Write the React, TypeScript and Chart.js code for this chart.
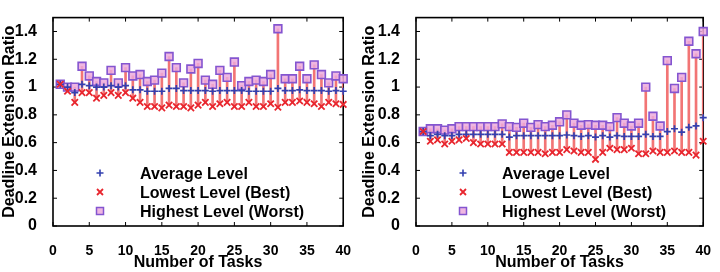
import React, { useEffect, useRef } from "react";
import { Chart, registerables } from "chart.js";

Chart.register(...registerables);

// ---- data ----
const taskCounts = [
  1, 2, 3, 4, 5, 6, 7, 8, 9, 10, 11, 12, 13, 14, 15, 16, 17, 18, 19, 20,
  21, 22, 23, 24, 25, 26, 27, 28, 29, 30, 31, 32, 33, 34, 35, 36, 37, 38, 39, 40,
];
const xTickValues = [0, 5, 10, 15, 20, 25, 30, 35, 40];
const yTickValues = [0, 0.2, 0.4, 0.6, 0.8, 1, 1.2, 1.4];
const seriesLabels = ["Average Level", "Lowest Level (Best)", "Highest Level (Worst)"];
const yAxisTitle = "Deadline Extension Ratio";
const xAxisTitle = "Number of Tasks";

const leftAvg = [
  1.02, 1.0, 0.96, 1.02, 1.01, 1.0, 1.0, 1.01, 1.0, 1.01,
  0.98, 0.98, 0.97, 0.97, 0.97, 0.99, 0.99, 0.975, 0.975, 0.975,
  0.975, 0.97, 0.975, 0.975, 0.975, 0.975, 0.97, 0.97, 0.97, 0.97,
  0.99, 0.975, 0.975, 0.98, 0.975, 0.975, 0.975, 0.97, 0.975, 0.97,
];
const leftLow = [
  1.02, 0.97, 0.89, 0.96, 0.96, 0.92, 0.94, 0.96, 0.94, 0.96,
  0.92, 0.89, 0.86, 0.86, 0.85, 0.87, 0.86, 0.86, 0.85, 0.87,
  0.89, 0.86, 0.88, 0.89, 0.86, 0.86, 0.89, 0.86, 0.86, 0.88,
  0.855, 0.89, 0.89, 0.9, 0.89, 0.88, 0.86, 0.89, 0.88, 0.875,
];
const leftHigh = [
  1.02, 1.0, 1.0, 1.15, 1.08, 1.04, 1.03, 1.12, 1.03, 1.14,
  1.08, 1.09, 1.04, 1.05, 1.1, 1.22, 1.14, 1.03, 1.13, 1.17,
  1.05, 1.02, 1.12, 1.07, 1.18, 1.01, 1.04, 1.05, 1.04, 1.09,
  1.42, 1.06, 1.06, 1.15, 1.06, 1.16, 1.09, 1.03, 1.08, 1.06,
];

const rightAvg = [
  0.68, 0.65, 0.66, 0.65, 0.65, 0.66, 0.66, 0.66, 0.66, 0.66,
  0.66, 0.66, 0.64, 0.65, 0.65, 0.65, 0.65, 0.65, 0.65, 0.65,
  0.655, 0.65, 0.645, 0.65, 0.64, 0.65, 0.64, 0.65, 0.645, 0.645,
  0.645, 0.66, 0.645, 0.645, 0.68, 0.70, 0.675, 0.71, 0.72, 0.78,
];
const rightLow = [
  0.68, 0.61, 0.62, 0.59, 0.61, 0.62, 0.63, 0.6, 0.59, 0.59,
  0.59, 0.59, 0.53, 0.53, 0.53, 0.53, 0.53, 0.52, 0.53, 0.53,
  0.55, 0.54, 0.53, 0.53, 0.48, 0.53, 0.56, 0.55, 0.55, 0.56,
  0.52, 0.52, 0.54, 0.53, 0.53, 0.54, 0.53, 0.53, 0.51, 0.61,
];
const rightHigh = [
  0.68, 0.7, 0.7, 0.69, 0.7, 0.715, 0.715, 0.715, 0.715, 0.715,
  0.715, 0.735, 0.715, 0.71, 0.74, 0.71, 0.73, 0.715, 0.725, 0.75,
  0.8, 0.74, 0.725, 0.73, 0.725, 0.725, 0.715, 0.78, 0.74, 0.72,
  0.74, 1.0, 0.79, 0.72, 1.19, 0.99, 1.07, 1.33, 1.24, 1.4,
];

// ---- styles ----
const FONT = "'Liberation Sans', Arial, Helvetica, sans-serif";
const AVG_COLOR = "#3340b0";
const LOW_COLOR = "#e8262e";
const HIGH_BORDER = "#8455d0";
const HIGH_FILL = "rgba(236,170,220,0.85)";
const RANGE_COLOR = "#f27575";

type PanelProps = {
  avg: number[];
  low: number[];
  high: number[];
  plotLeft: number;
  padRight: number;
  legendX: number;
  legendTextX: number;
};

function Panel({ avg, low, high, plotLeft, padRight, legendX, legendTextX }: PanelProps) {
  const ref = useRef<HTMLCanvasElement>(null);

  useEffect(() => {
    const canvas = ref.current;
    if (!canvas) return;

    const framePlugin = {
      id: "frameTicks",
      beforeDatasetsDraw(chart: any) {
        const { ctx, chartArea: a, scales } = chart;
        ctx.save();
        ctx.strokeStyle = "#000";
        ctx.lineWidth = 1;
        ctx.beginPath();
        for (const v of xTickValues) {
          const px = scales.x.getPixelForValue(v);
          ctx.moveTo(px, a.bottom);
          ctx.lineTo(px, a.bottom - 4);
          ctx.moveTo(px, a.top);
          ctx.lineTo(px, a.top + 4);
        }
        for (const v of yTickValues) {
          const py = scales.y.getPixelForValue(v);
          ctx.moveTo(a.left, py);
          ctx.lineTo(a.left + 4, py);
          ctx.moveTo(a.right, py);
          ctx.lineTo(a.right - 4, py);
        }
        ctx.stroke();
        ctx.lineWidth = 1.6;
        ctx.strokeRect(a.left, a.top, a.right - a.left, a.bottom - a.top);
        ctx.restore();
      },
    };

    const legendPlugin = {
      id: "insideLegend",
      afterDatasetsDraw(chart: any) {
        const ctx = chart.ctx as CanvasRenderingContext2D;
        const markerY = [173, 192, 211];
        const baseY = [179, 198, 217];
        ctx.save();
        // average: plus
        ctx.strokeStyle = AVG_COLOR;
        ctx.lineWidth = 1.6;
        ctx.beginPath();
        ctx.moveTo(legendX - 3.5, markerY[0]);
        ctx.lineTo(legendX + 3.5, markerY[0]);
        ctx.moveTo(legendX, markerY[0] - 3.5);
        ctx.lineTo(legendX, markerY[0] + 3.5);
        ctx.stroke();
        // lowest: x
        ctx.strokeStyle = LOW_COLOR;
        ctx.lineWidth = 1.8;
        ctx.beginPath();
        ctx.moveTo(legendX - 3, markerY[1] - 3);
        ctx.lineTo(legendX + 3, markerY[1] + 3);
        ctx.moveTo(legendX + 3, markerY[1] - 3);
        ctx.lineTo(legendX - 3, markerY[1] + 3);
        ctx.stroke();
        // highest: square
        ctx.fillStyle = HIGH_FILL;
        ctx.strokeStyle = HIGH_BORDER;
        ctx.lineWidth = 1.5;
        ctx.fillRect(legendX - 3.5, markerY[2] - 3.5, 7, 7);
        ctx.strokeRect(legendX - 3.5, markerY[2] - 3.5, 7, 7);
        // texts
        ctx.fillStyle = "#000";
        ctx.font = `bold 16px ${FONT}`;
        ctx.textAlign = "left";
        ctx.textBaseline = "alphabetic";
        seriesLabels.forEach((t, i) => ctx.fillText(t, legendTextX, baseY[i]));
        ctx.restore();
      },
    };

    const chart = new Chart(canvas, {
      type: "scatter",
      data: {
        datasets: [
          {
            type: "bar",
            label: "range",
            data: taskCounts.map((t, i) => ({ x: t, y: [low[i], high[i]] })) as any,
            backgroundColor: RANGE_COLOR,
            barThickness: 2,
            borderWidth: 0,
            order: 10,
          } as any,
          {
            label: seriesLabels[2],
            data: taskCounts.map((t, i) => ({ x: t, y: high[i] })),
            pointStyle: "rect",
            pointRadius: 5.5,
            backgroundColor: HIGH_FILL,
            borderColor: HIGH_BORDER,
            borderWidth: 1.6,
            order: 3,
            clip: false,
          } as any,
          {
            label: seriesLabels[0],
            data: taskCounts.map((t, i) => ({ x: t, y: avg[i] })),
            pointStyle: "cross",
            pointRadius: 3.5,
            borderColor: AVG_COLOR,
            backgroundColor: AVG_COLOR,
            borderWidth: 1.7,
            order: 2,
            clip: false,
          } as any,
          {
            label: seriesLabels[1],
            data: taskCounts.map((t, i) => ({ x: t, y: low[i] })),
            pointStyle: "crossRot",
            pointRadius: 4.5,
            borderColor: LOW_COLOR,
            backgroundColor: LOW_COLOR,
            borderWidth: 1.8,
            order: 1,
            clip: false,
          } as any,
        ],
      },
      options: {
        responsive: false,
        animation: false,
        events: [],
        layout: { padding: { top: 5, right: padRight, bottom: 0, left: 0 } },
        plugins: {
          legend: { display: false },
          tooltip: { enabled: false },
        },
        scales: {
          x: {
            type: "linear",
            min: 0,
            max: 40,
            offset: false,
            grid: { display: false },
            border: { display: false },
            afterBuildTicks: (s: any) => {
              s.ticks = xTickValues.map((v) => ({ value: v }));
            },
            afterFit: (s: any) => {
              s.height = 46;
            },
            ticks: {
              autoSkip: false,
              maxRotation: 0,
              padding: 9,
              color: "#000",
              font: { family: FONT, size: 14, weight: "bold" },
              callback: (v: any) => String(v),
            },
            title: {
              display: true,
              text: xAxisTitle,
              color: "#000",
              padding: 0,
              font: { family: FONT, size: 16, weight: "bold" },
            },
          },
          y: {
            type: "linear",
            min: 0,
            max: 1.5,
            grid: { display: false },
            border: { display: false },
            afterBuildTicks: (s: any) => {
              s.ticks = yTickValues.map((v) => ({ value: v }));
            },
            afterFit: (s: any) => {
              s.width = plotLeft;
            },
            ticks: {
              padding: 8,
              color: "#000",
              font: { family: FONT, size: 16, weight: "bold" },
              callback: (v: any) => String(v),
            },
            title: {
              display: true,
              text: yAxisTitle,
              color: "#000",
              padding: 0,
              font: { family: FONT, size: 16, weight: "bold" },
            },
          },
        },
      } as any,
      plugins: [framePlugin, legendPlugin],
    });

    return () => chart.destroy();
  }, [avg, low, high, plotLeft, padRight, legendX, legendTextX]);

  return (
    <canvas
      ref={ref}
      width={360}
      height={272}
      style={{ display: "block", width: 360, height: 272 }}
    />
  );
}

export default function App() {
  return (
    <div
      style={{
        position: "fixed",
        left: 0,
        top: 0,
        width: 720,
        height: 272,
        display: "flex",
        background: "#fff",
      }}
    >
      <Panel
        avg={leftAvg}
        low={leftLow}
        high={leftHigh}
        plotLeft={53}
        padRight={8}
        legendX={100}
        legendTextX={140}
      />
      <Panel
        avg={rightAvg}
        low={rightLow}
        high={rightHigh}
        plotLeft={56}
        padRight={6}
        legendX={103}
        legendTextX={142}
      />
    </div>
  );
}
